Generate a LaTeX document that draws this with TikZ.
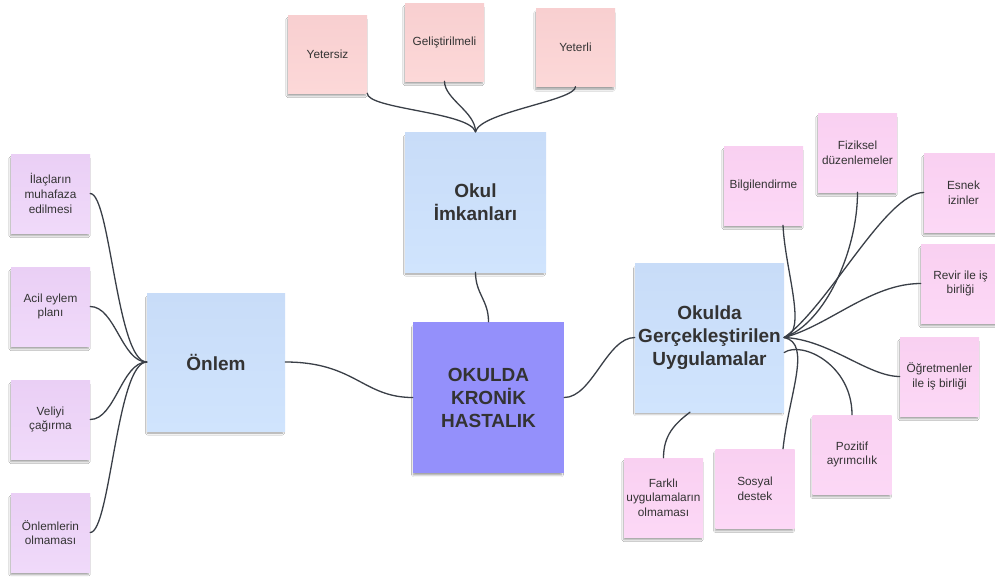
\documentclass[tikz,border=0pt]{standalone}
\usepackage{fontspec}
\setmainfont{Liberation Sans}
\usetikzlibrary{shadows.blur,calc}

\definecolor{ink}{HTML}{333333}
\definecolor{wire}{HTML}{3A3F47}
\definecolor{lavtop}{HTML}{EACFF5}
\definecolor{lavbot}{HTML}{F0DAFA}
\definecolor{pinktop}{HTML}{F9D0F1}
\definecolor{pinkbot}{HTML}{FCD8F6}
\definecolor{rosetop}{HTML}{F8CFD0}
\definecolor{rosebot}{HTML}{FCD8D8}
\definecolor{bluetop}{HTML}{C8DCF8}
\definecolor{bluebot}{HTML}{D0E4FD}
\definecolor{core}{HTML}{9490FB}

\tikzset{
  note/.style={rectangle, inner sep=0pt, align=center, text=ink,
    minimum width=79pt, minimum height=79pt,
    font=\fontsize{11.8}{14.6}\selectfont,
    blur shadow={shadow xshift=-1pt, shadow yshift=-3.5pt, shadow scale=0.98,
      shadow blur radius=2pt, shadow blur steps=6, shadow opacity=40}},
  lavnote/.style={note, top color=lavtop, bottom color=lavbot},
  pinknote/.style={note, top color=pinktop, bottom color=pinkbot},
  rosenote/.style={note, top color=rosetop, bottom color=rosebot, minimum height=78pt},
  topic/.style={note, top color=bluetop, bottom color=bluebot,
    font=\fontsize{19}{23}\selectfont\bfseries},
  coretopic/.style={note, fill=core, minimum width=151pt, minimum height=151pt,
    font=\fontsize{19}{23}\selectfont\bfseries},
  link/.style={draw=wire, line width=1.3pt, line cap=round},
}

\begin{document}
\begin{tikzpicture}[x=1pt, y=-1pt]
\clip (0,0) rectangle (995,576);
\fill[white] (0,0) rectangle (995,576);

% central topic and its three branches
\node[coretopic] (kronik) at (488.5,397.5) {OKULDA\\KRONİK\\HASTALIK};
\node[topic, minimum width=138pt, minimum height=138pt] (onlem) at (216,362) {Önlem};
\node[topic, minimum width=141pt, minimum height=140pt] (okul) at (475.5,202) {Okul\\İmkanları};
\node[topic, minimum width=149pt, minimum height=149pt] (gerc) at (709.5,337.5) {Okulda\\Gerçekleştirilen\\Uygulamalar};

% prevention notes
\node[lavnote] (ilac) at (50.5,193.5) {İlaçların\\muhafaza\\edilmesi};
\node[lavnote] (acil) at (50.5,306.5) {Acil eylem\\planı};
\node[lavnote] (veli) at (50.5,419.5) {Veliyi\\çağırma};
\node[lavnote] (onlemyok) at (50.5,532.5) {Önlemlerin\\olmaması};

% school facilities notes
\node[rosenote] (yetersiz) at (327.5,54) {Yetersiz};
\node[rosenote] (gelis) at (444.5,42) {Geliştirilmeli};
\node[rosenote] (yeterli) at (575.5,47.5) {Yeterli};

% practice notes
\node[pinknote] (bilgi) at (763.5,185.5) {Bilgilendirme};
\node[pinknote] (fizik) at (857.5,152.5) {Fiziksel\\düzenlemeler};
\node[pinknote] (esnek) at (963.5,192.5) {Esnek\\izinler};
\node[pinknote] (revir) at (960.5,283.5) {Revir ile iş\\birliği};
\node[pinknote] (ogret) at (939.5,376.5) {Öğretmenler\\ile iş birliği};
\node[pinknote] (pozitif) at (852,454.5) {Pozitif\\ayrımcılık};
\node[pinknote] (sosyal) at (755,488.5) {Sosyal\\destek};
\node[pinknote] (farkli) at (663.5,497.5) {Farklı\\uygulamaların\\olmaması};

% connectors: prevention
\draw[link] (ilac.east) .. controls +(20,0) and +(-30,0) .. (onlem.west);
\draw[link] (acil.east) .. controls +(25,0) and +(-25,0) .. (onlem.west);
\draw[link] (veli.east) .. controls +(25,0) and +(-25,0) .. (onlem.west);
\draw[link] (onlemyok.east) .. controls +(20,0) and +(-30,0) .. (onlem.west);

% connectors: main chain
\draw[link] (onlem.east) .. controls +(70,0) and +(-50,0) .. (kronik.west);
\draw[link] (kronik.north) .. controls +(0,-22) and +(0,22) .. (okul.south);
\draw[link] (kronik.east) .. controls +(28,0) and +(-28,0) .. (gerc.west);

% connectors: school facilities
\draw[link] (yetersiz.south east) .. controls +(0,16) and +(-6,-20) .. (okul.north);
\draw[link] (gelis.south) .. controls +(0,18) and +(0,-20) .. (okul.north);
\draw[link] (yeterli.south) .. controls +(0,14) and +(5,-20) .. (okul.north);

% connectors: practices
\coordinate (hub) at (gerc.east);
\coordinate (hublow) at ($(gerc.east)+(0,15)$);
\draw[link] ($(bilgi.south)+(19.5,0)$) .. controls +(2,45) and +(24,-4) .. (hub);
\draw[link] (fizik.south) .. controls +(0,60) and +(40,-14) .. (hub);
\draw[link] (esnek.west) .. controls +(-38,0) and +(45,-32) .. (hub);
\draw[link] (revir.west) .. controls +(-50,0) and +(45,-12) .. (hub);
\draw[link] (ogret.west) .. controls +(-32,0) and +(45,2) .. (hub);
\draw[link] (hublow) .. controls +(18,-12) and +(0,-50) .. (pozitif.north);
\draw[link] (hub) .. controls +(28,6) and +(6,-55) .. ($(sosyal.north)+(28,0)$);
\draw[link] ($(gerc.south)+(-19.5,0)$) .. controls +(-16,12) and +(0,-22) .. (farkli.north);
\end{tikzpicture}
\end{document}
